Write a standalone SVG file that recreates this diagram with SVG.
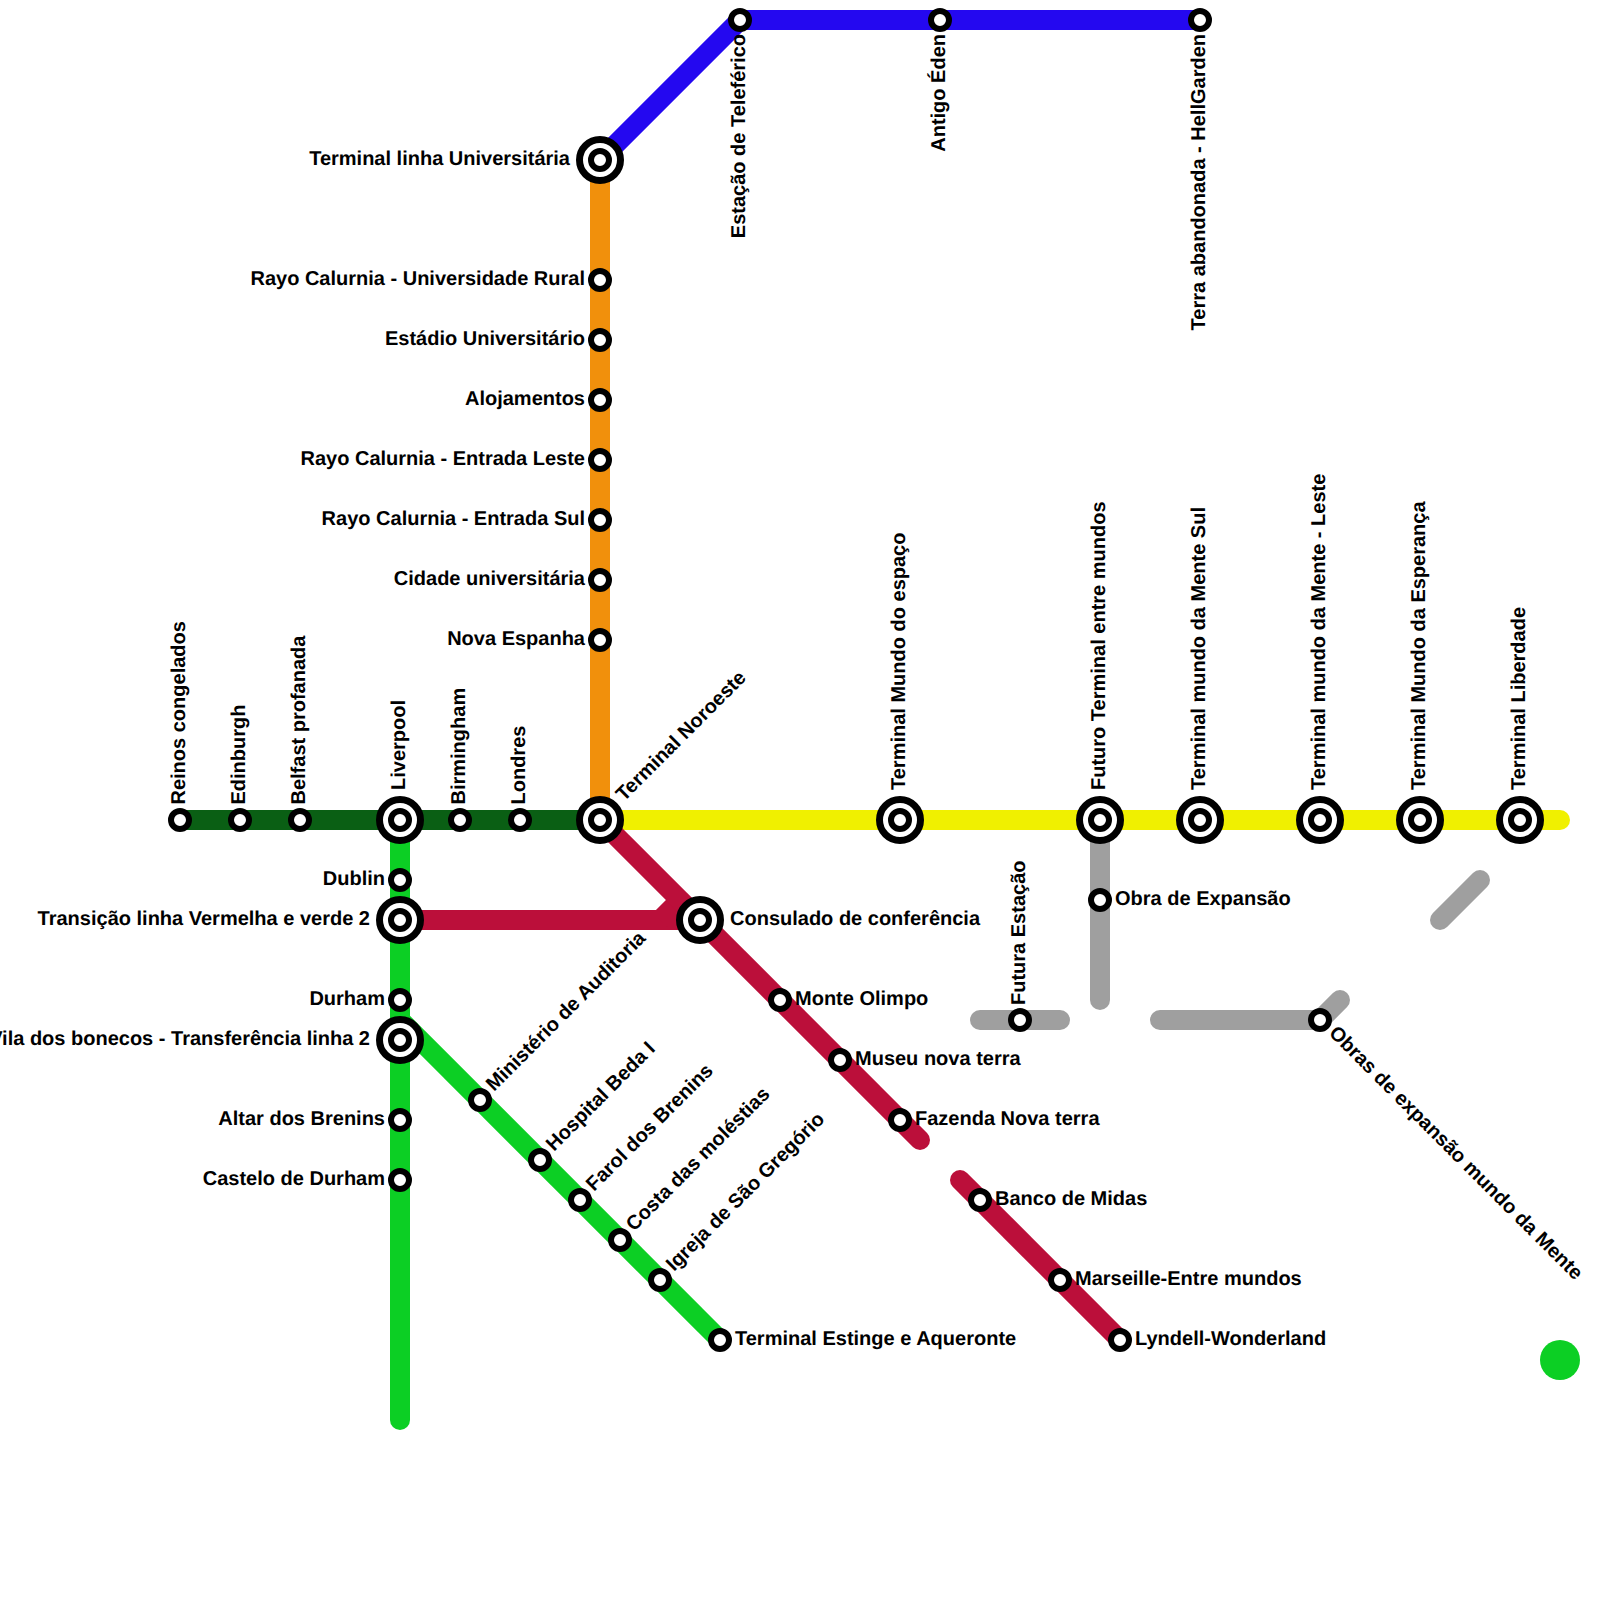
<svg xmlns="http://www.w3.org/2000/svg" width="1600" height="1600" viewBox="0 0 1600 1600">
<style>
.l{fill:none;stroke-width:20;stroke-linejoin:round}
.r{stroke-linecap:round}
.dg{stroke:#0a5f14}.gr{stroke:#0ccf24}.ye{stroke:#f0f000}.or{stroke:#f1900c}.bl{stroke:#2408f0}.cr{stroke:#bb0f3a}.gy{stroke:#9f9f9f}
.s{fill:#fff;stroke:#000;stroke-width:6}
.o{fill:#fff;stroke:#000;stroke-width:7}
text{font-family:"Liberation Sans",Arial,sans-serif;font-weight:700;font-size:20px;fill:#000;text-rendering:geometricPrecision}
.e{text-anchor:end}
</style>
<defs>
<g id="st"><circle class="s" r="9"/></g>
<g id="ic"><circle class="o" r="20.5"/><circle class="s" r="9"/></g>
</defs>
<rect width="1600" height="1600" fill="#fff"/>
<g id="connectors">
<path class="l ye r" d="M600 820H1560"/>
<path class="l dg" d="M180 820H600"/>
<path class="l or" d="M600 160V820"/>
<path class="l bl" d="M600 160L740 20H1200"/>
<path class="l gr r" d="M400 820V1420"/>
<path class="l gr" d="M400 1020L720 1340"/>
<path class="l cr" d="M400 920H700"/>
<path class="l cr" d="M660 920L680 900"/>
<path class="l cr r" d="M600 820L920 1140"/>
<path class="l cr r" d="M960 1180L1120 1340"/>
<path class="l gy r" d="M1100 820V1000"/>
<path class="l gy r" d="M980 1020H1060"/>
<path class="l gy r" d="M1160 1020H1320L1340 1000"/>
<path class="l gy r" d="M1440 920L1480 880"/>
</g>
<circle id="green-dot" cx="1560" cy="1360" r="20" fill="#0ccf24"/>
<g id="n1"><use href="#st" x="180" y="820"/><text transform="translate(185 804.5) rotate(-90)">Reinos congelados</text></g>
<g id="n2"><use href="#st" x="240" y="820"/><text transform="translate(245 804.5) rotate(-90)">Edinburgh</text></g>
<g id="n3"><use href="#st" x="300" y="820"/><text transform="translate(305 804.5) rotate(-90)">Belfast profanada</text></g>
<g id="n4"><use href="#ic" x="400" y="820"/><text transform="translate(405 790) rotate(-90)">Liverpool</text></g>
<g id="n5"><use href="#st" x="460" y="820"/><text transform="translate(465 804.5) rotate(-90)">Birmingham</text></g>
<g id="n6"><use href="#st" x="520" y="820"/><text transform="translate(525 804.5) rotate(-90)">Londres</text></g>
<g id="n7"><use href="#ic" x="600" y="820"/><text transform="translate(624 802) rotate(-45)">Terminal Noroeste</text></g>
<g id="n8"><use href="#ic" x="600" y="160"/><text class="e" x="570" y="165">Terminal linha Universitária</text></g>
<g id="n9"><use href="#st" x="600" y="280"/><text class="e" x="585" y="285">Rayo Calurnia - Universidade Rural</text></g>
<g id="n10"><use href="#st" x="600" y="340"/><text class="e" x="585" y="345">Estádio Universitário</text></g>
<g id="n11"><use href="#st" x="600" y="400"/><text class="e" x="585" y="405">Alojamentos</text></g>
<g id="n12"><use href="#st" x="600" y="460"/><text class="e" x="585" y="465">Rayo Calurnia - Entrada Leste</text></g>
<g id="n13"><use href="#st" x="600" y="520"/><text class="e" x="585" y="525">Rayo Calurnia - Entrada Sul</text></g>
<g id="n14"><use href="#st" x="600" y="580"/><text class="e" x="585" y="585">Cidade universitária</text></g>
<g id="n15"><use href="#st" x="600" y="640"/><text class="e" x="585" y="645">Nova Espanha</text></g>
<g id="n16"><use href="#st" x="740" y="20"/><text class="e" transform="translate(745 34) rotate(-90)">Estação de Teleférico</text></g>
<g id="n17"><use href="#st" x="940" y="20"/><text class="e" transform="translate(945 34) rotate(-90)">Antigo Éden</text></g>
<g id="n18"><use href="#st" x="1200" y="20"/><text class="e" transform="translate(1205 34) rotate(-90)">Terra abandonada - HellGarden</text></g>
<g id="n19"><use href="#ic" x="900" y="820"/><text transform="translate(905 790) rotate(-90)">Terminal Mundo do espaço</text></g>
<g id="n20"><use href="#ic" x="1100" y="820"/><text transform="translate(1105 790) rotate(-90)">Futuro Terminal entre mundos</text></g>
<g id="n21"><use href="#ic" x="1200" y="820"/><text transform="translate(1205 790) rotate(-90)">Terminal mundo da Mente Sul</text></g>
<g id="n22"><use href="#ic" x="1320" y="820"/><text transform="translate(1325 790) rotate(-90)">Terminal mundo da Mente - Leste</text></g>
<g id="n23"><use href="#ic" x="1420" y="820"/><text transform="translate(1425 790) rotate(-90)">Terminal Mundo da Esperança</text></g>
<g id="n24"><use href="#ic" x="1520" y="820"/><text transform="translate(1525 790) rotate(-90)">Terminal Liberdade</text></g>
<g id="n25"><use href="#st" x="400" y="880"/><text class="e" x="385" y="885">Dublin</text></g>
<g id="n26"><use href="#ic" x="400" y="920"/><text class="e" x="370" y="925">Transição linha Vermelha e verde 2</text></g>
<g id="n27"><use href="#st" x="400" y="1000"/><text class="e" x="385" y="1005">Durham</text></g>
<g id="n28"><use href="#ic" x="400" y="1040"/><text class="e" x="370" y="1045">Vila dos bonecos - Transferência linha 2</text></g>
<g id="n29"><use href="#st" x="400" y="1120"/><text class="e" x="385" y="1125">Altar dos Brenins</text></g>
<g id="n30"><use href="#st" x="400" y="1180"/><text class="e" x="385" y="1185">Castelo de Durham</text></g>
<g id="n31"><use href="#st" x="480" y="1100"/><text transform="translate(494 1092) rotate(-45)">Ministério de Auditoria</text></g>
<g id="n32"><use href="#st" x="540" y="1160"/><text transform="translate(554 1152) rotate(-45)">Hospital Beda I</text></g>
<g id="n33"><use href="#st" x="580" y="1200"/><text transform="translate(594 1192) rotate(-45)">Farol dos Brenins</text></g>
<g id="n34"><use href="#st" x="620" y="1240"/><text transform="translate(634 1232) rotate(-45)">Costa das moléstias</text></g>
<g id="n35"><use href="#st" x="660" y="1280"/><text transform="translate(674 1272) rotate(-45)">Igreja de São Gregório</text></g>
<g id="n36"><use href="#st" x="720" y="1340"/><text x="735" y="1345">Terminal Estinge e Aqueronte</text></g>
<g id="n37"><use href="#ic" x="700" y="920"/><text x="730" y="925">Consulado de conferência</text></g>
<g id="n38"><use href="#st" x="780" y="1000"/><text x="795" y="1005">Monte Olimpo</text></g>
<g id="n39"><use href="#st" x="840" y="1060"/><text x="855" y="1065">Museu nova terra</text></g>
<g id="n40"><use href="#st" x="900" y="1120"/><text x="915" y="1125">Fazenda Nova terra</text></g>
<g id="n41"><use href="#st" x="980" y="1200"/><text x="995" y="1205">Banco de Midas</text></g>
<g id="n42"><use href="#st" x="1060" y="1280"/><text x="1075" y="1285">Marseille-Entre mundos</text></g>
<g id="n43"><use href="#st" x="1120" y="1340"/><text x="1135" y="1345">Lyndell-Wonderland</text></g>
<g id="n44"><use href="#st" x="1020" y="1020"/><text transform="translate(1025 1005) rotate(-90)">Futura Estação</text></g>
<g id="n45"><use href="#st" x="1100" y="900"/><text x="1115" y="905">Obra de Expansão</text></g>
<g id="n46"><use href="#st" x="1320" y="1020"/><text transform="translate(1328 1034) rotate(45)">Obras de expansão mundo da Mente</text></g>
</svg>
